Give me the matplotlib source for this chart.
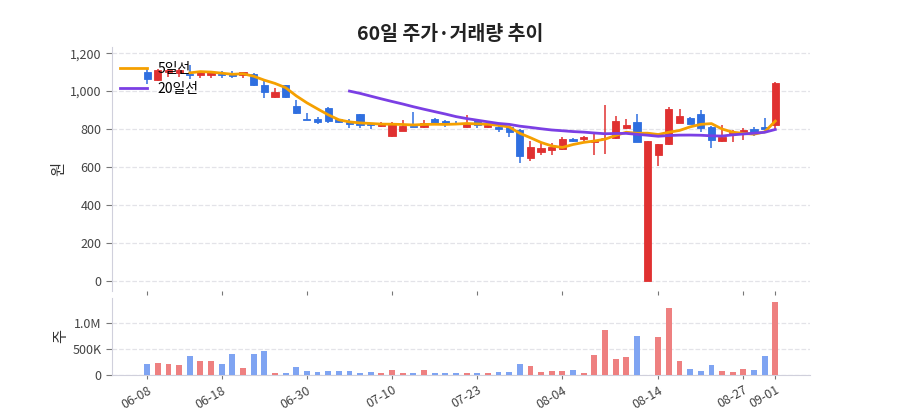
import numpy as np
import pandas as pd
import matplotlib.pyplot as plt
from matplotlib.ticker import FuncFormatter

plt.rcParams['font.family'] = ['Noto Sans CJK KR', 'DejaVu Sans']

# 60 trading days
opens = [1100, 1058, 1098, 1095, 1090, 1084, 1085, 1090, 1090, 1083,
         1090, 1030, 967, 1030, 922, 855, 853, 912, 850, 835,
         877, 827, 817, 761, 791, 817, 809, 855, 842, 832,
         813, 845, 812, 812, 810, 792, 646, 677, 690, 693,
         746, 748, 730, 750, 751, 805, 838, 0, 663, 721,
         833, 860, 879, 812, 735, 780, 780, 800, 809, 821]
highs = [1120, 1115, 1118, 1115, 1140, 1100, 1103, 1105, 1105, 1100,
         1095, 1055, 1015, 1032, 952, 885, 865, 915, 852, 855,
         880, 830, 835, 835, 847, 890, 847, 857, 845, 842,
         873, 848, 835, 818, 815, 800, 737, 724, 728, 760,
         755, 765, 786, 925, 868, 852, 880, 737, 722, 918,
         903, 862, 900, 815, 821, 795, 807, 812, 860, 1047]
lows = [1035, 1055, 1072, 1075, 1065, 1068, 1068, 1068, 1068, 1068,
        1025, 963, 965, 965, 880, 845, 825, 832, 833, 803,
        805, 800, 808, 760, 790, 808, 805, 828, 808, 820,
        803, 803, 805, 782, 760, 623, 632, 663, 663, 690,
        730, 735, 663, 668, 748, 800, 730, 0, 603, 718,
        830, 825, 786, 698, 730, 733, 742, 765, 798, 795]
closes = [1065, 1110, 1112, 1110, 1083, 1098, 1098, 1083, 1080, 1098,
          1032, 995, 997, 968, 882, 848, 835, 842, 836, 825,
          822, 820, 825, 834, 817, 810, 833, 830, 830, 826,
          826, 821, 823, 798, 786, 658, 704, 698, 707, 746,
          735, 760, 735, 755, 843, 821, 733, 737, 720, 903,
          868, 828, 803, 740, 760, 785, 795, 783, 800, 1045]
volumes = [209, 228, 209, 189, 357, 267, 263, 201, 404, 136,
           404, 455, 33, 33, 150, 65, 52, 72, 65, 72,
           33, 52, 33, 98, 33, 33, 98, 33, 33, 39,
           33, 33, 33, 52, 52, 203, 163, 52, 65, 65,
           85, 39, 384, 871, 306, 345, 754, 0, 722, 1281,
           273, 111, 78, 195, 78, 52, 111, 91, 364, 1410]  # thousands

tick_idx = [0, 7, 15, 23, 31, 39, 48, 56, 59]
tick_labels = ['06-08', '06-18', '06-30', '07-10', '07-23', '08-04', '08-14', '08-27', '09-01']

df = pd.DataFrame({'open': opens, 'high': highs, 'low': lows,
                   'close': closes, 'volume': np.array(volumes) * 1000})
df['ma5'] = df['close'].rolling(5).mean()
df['ma20'] = df['close'].rolling(20).mean()
x = np.arange(len(df))

RED = '#e03131'
BLUE = '#2f6fe0'
up = df['close'] >= df['open']
colors = np.where(up, RED, BLUE)

fig = plt.figure(figsize=(9, 4.2), dpi=100)
ax = fig.add_axes([0.1245, 0.307, 0.776, 0.58])
axv = fig.add_axes([0.1245, 0.108, 0.776, 0.182])

# candles
ax.vlines(x, df['low'], df['high'], colors=colors, linewidth=1.1, zorder=2)
body_lo = np.minimum(df['open'], df['close'])
body_h = np.maximum(np.abs(df['close'] - df['open']), 3)
ax.bar(x, body_h, bottom=body_lo, width=0.68, color=colors,
       edgecolor=colors, linewidth=0.6, zorder=3)

ax.plot(x, df['ma5'], color='#f5a000', linewidth=2, label='5일선', zorder=4)
ax.plot(x, df['ma20'], color='#7b3fe4', linewidth=2, label='20일선', zorder=4)

ax.set_xlim(-3.3, 62.3)
ax.set_ylim(-55, 1230)
ax.set_yticks([0, 200, 400, 600, 800, 1000, 1200])
ax.yaxis.set_major_formatter(FuncFormatter(lambda v, p: f'{int(v):,}'))
ax.grid(axis='y', color='#e3e3e8', linestyle='--', linewidth=0.9)
ax.set_axisbelow(True)
ax.set_xticks(tick_idx)
ax.tick_params(axis='x', labelbottom=False, length=3, color='#777777')
ax.tick_params(axis='y', labelsize=9, colors='#444444', length=4, color='#777777')
for s in ['top', 'right', 'bottom']:
    ax.spines[s].set_visible(False)
ax.spines['left'].set_color('#d0d0dc')
ax.set_ylabel('원', fontsize=11, color='#333333', labelpad=2)

leg = ax.legend(loc='upper left', frameon=False, fontsize=10, handlelength=2.0,
                handletextpad=0.7, labelspacing=0.45, borderaxespad=0.0,
                bbox_to_anchor=(0.003, 0.965))

# volume
vol_colors = np.where(up, '#ee8080', '#7fa4f2')
axv.bar(x, df['volume'], width=0.55, color=vol_colors, zorder=3)
axv.set_xlim(-3.3, 62.3)
axv.set_ylim(0, 1480000)
axv.set_yticks([0, 500000, 1000000])
axv.set_yticklabels(['0', '500K', '1.0M'])
axv.grid(axis='y', color='#e3e3e8', linestyle='--', linewidth=0.9)
axv.set_axisbelow(True)
axv.set_xticks(tick_idx)
axv.set_xticklabels(tick_labels, rotation=30, ha='right', rotation_mode='anchor')
axv.tick_params(axis='x', labelsize=9, colors='#444444', length=3, color='#777777')
axv.tick_params(axis='y', labelsize=9, colors='#444444', length=4, color='#777777')
for s in ['top', 'right']:
    axv.spines[s].set_visible(False)
axv.spines['left'].set_color('#d0d0dc')
axv.spines['bottom'].set_color('#d0d0dc')
axv.set_ylabel('주', fontsize=11, color='#333333', labelpad=2)

fig.text(0.5, 0.905, '60일 주가·거래량 추이', ha='center', fontsize=14,
         fontweight='bold', color='#222222')

fig.savefig('out.png', dpi=100)
